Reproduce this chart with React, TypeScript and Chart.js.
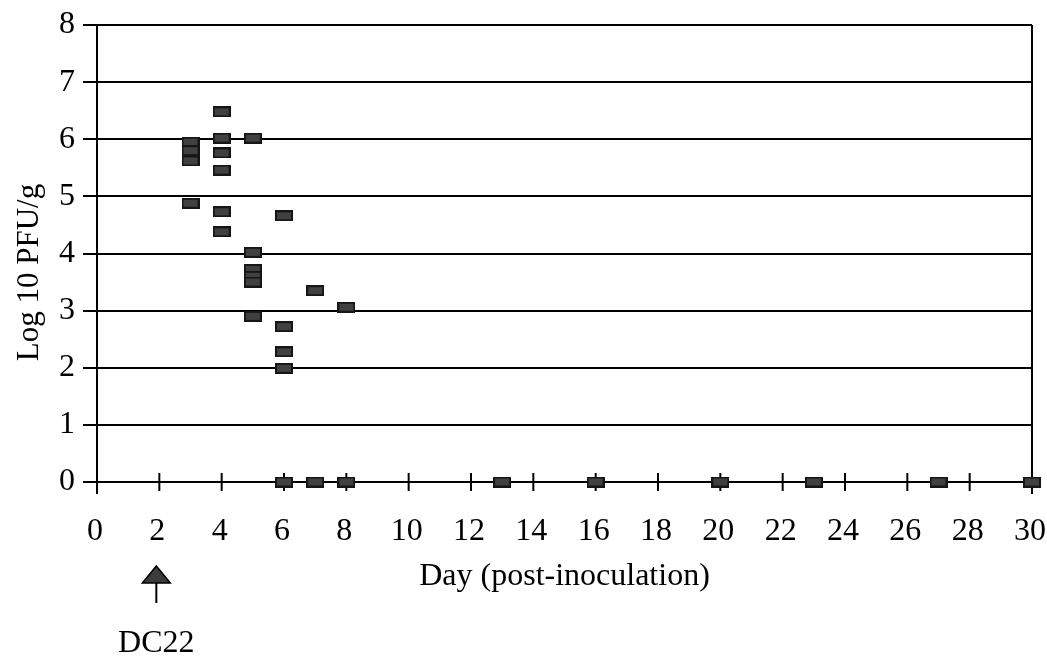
import React, { useEffect, useRef } from "react";
import { Chart, registerables } from "chart.js";

Chart.register(...registerables);

// Samples with detectable virus: day and log10 PFU/g
const positiveDays = [3, 3, 3, 3, 4, 4, 4, 4, 4, 4, 5, 5, 5, 5, 5, 5, 6, 6, 6, 6, 7, 8];
const positiveTiters = [
  5.95, 5.8, 5.62, 4.88,
  6.48, 6.02, 5.76, 5.46, 4.73, 4.38,
  6.02, 4.02, 3.72, 3.6, 3.5, 2.9,
  4.66, 2.72, 2.28, 1.99,
  3.35,
  3.06,
];
// Samples below detection
const negativeDays = [6, 7, 8, 13, 16, 20, 23, 27, 30];
const negativeTiters = [0, 0, 0, 0, 0, 0, 0, 0, 0];

const xTickValues = [0, 2, 4, 6, 8, 10, 12, 14, 16, 18, 20, 22, 24, 26, 28, 30];
const yTickValues = [0, 1, 2, 3, 4, 5, 6, 7, 8];

const doseDay = 2;
const doseLabel = "DC22";
const xTitle = "Day (post-inoculation)";
const yTitle = "Log 10 PFU/g";

const SERIF = "'Liberation Serif', 'Times New Roman', Times, serif";

function makeMarker(): HTMLCanvasElement {
  const c = document.createElement("canvas");
  c.width = 18;
  c.height = 11;
  const g = c.getContext("2d")!;
  g.fillStyle = "#161616";
  g.fillRect(0, 0, 18, 11);
  g.fillStyle = "#404040";
  g.fillRect(2, 2, 14, 7);
  return c;
}

const framePlugin = {
  id: "frameAndMarks",
  beforeDatasetsDraw(chart: any) {
    const { ctx, chartArea, scales } = chart;
    const xs = scales.x;
    const ys = scales.y;
    const y0 = ys.getPixelForValue(0);
    ctx.save();
    ctx.strokeStyle = "#000";
    ctx.lineWidth = 2;
    // cross ticks on the zero line
    xTickValues.forEach((v) => {
      const px = xs.getPixelForValue(v);
      ctx.beginPath();
      ctx.moveTo(px, y0 - 9);
      ctx.lineTo(px, y0 + 9);
      ctx.stroke();
    });
    // right frame and axis extensions below zero
    ctx.beginPath();
    ctx.moveTo(chartArea.right, chartArea.top);
    ctx.lineTo(chartArea.right, chartArea.bottom + 12);
    ctx.moveTo(chartArea.left, chartArea.bottom);
    ctx.lineTo(chartArea.left, chartArea.bottom + 12);
    ctx.stroke();
    ctx.restore();
  },
  afterDraw(chart: any) {
    const { ctx, chartArea, scales } = chart;
    const cx = scales.x.getPixelForValue(doseDay) - 3;
    ctx.save();
    // y-axis title
    ctx.fillStyle = "#000";
    ctx.font = `31px ${SERIF}`;
    ctx.textAlign = "center";
    ctx.textBaseline = "middle";
    ctx.translate(30, (chartArea.top + chartArea.bottom) / 2 + 19);
    ctx.rotate(-Math.PI / 2);
    ctx.fillText(yTitle, 0, 0);
    ctx.restore();

    ctx.save();
    // dosing arrow
    ctx.fillStyle = "#3c3c3c";
    ctx.strokeStyle = "#000";
    ctx.lineWidth = 1.5;
    ctx.beginPath();
    ctx.moveTo(cx, 566);
    ctx.lineTo(cx + 14, 583);
    ctx.lineTo(cx - 14, 583);
    ctx.closePath();
    ctx.fill();
    ctx.stroke();
    ctx.lineWidth = 2;
    ctx.beginPath();
    ctx.moveTo(cx, 583);
    ctx.lineTo(cx, 603);
    ctx.stroke();
    ctx.fillStyle = "#000";
    ctx.font = `32px ${SERIF}`;
    ctx.textAlign = "center";
    ctx.textBaseline = "alphabetic";
    ctx.fillText(doseLabel, cx, 652);
    ctx.restore();
  },
};

export default function App() {
  const ref = useRef<HTMLCanvasElement>(null);

  useEffect(() => {
    const marker = makeMarker();
    const toPts = (xs: number[], ys: number[]) => xs.map((x, i) => ({ x, y: ys[i] }));
    const chart = new Chart(ref.current!, {
      type: "scatter",
      data: {
        datasets: [
          {
            label: "positive",
            data: toPts(positiveDays, positiveTiters),
            pointStyle: marker as any,
            pointRadius: 9,
            clip: false,
          },
          {
            label: "negative",
            data: toPts(negativeDays, negativeTiters),
            pointStyle: marker as any,
            pointRadius: 9,
            clip: false,
          },
        ],
      },
      plugins: [framePlugin],
      options: {
        animation: false,
        responsive: false,
        devicePixelRatio: 1,
        layout: { padding: { top: 25, right: 15, left: 0, bottom: 0 } },
        plugins: { legend: { display: false }, tooltip: { enabled: false } },
        scales: {
          x: {
            type: "linear",
            min: 0,
            max: 30,
            afterBuildTicks: (s: any) => {
              s.ticks = xTickValues.map((v) => ({ value: v }));
            },
            afterFit: (s: any) => {
              s.height = 180;
              s.paddingLeft = 0;
              s.paddingRight = 0;
            },
            ticks: {
              color: "#000",
              font: { family: SERIF, size: 32 },
              padding: 30,
              labelOffset: -2,
              maxRotation: 0,
              autoSkip: false,
            },
            grid: { display: false, drawTicks: false },
            border: { display: true, color: "#000", width: 2 },
            title: {
              display: true,
              text: xTitle,
              color: "#000",
              font: { family: SERIF, size: 32 },
              padding: { top: 0, bottom: 66 },
            },
          },
          y: {
            type: "linear",
            min: 0,
            max: 8,
            afterBuildTicks: (s: any) => {
              s.ticks = yTickValues.map((v) => ({ value: v }));
            },
            afterFit: (s: any) => {
              s.width = 97;
              s.paddingTop = 0;
              s.paddingBottom = 0;
            },
            ticks: {
              color: "#000",
              font: { family: SERIF, size: 32 },
              padding: 8,
            },
            grid: { color: "#000", lineWidth: 2, tickLength: 14 },
            border: { display: true, color: "#000", width: 2 },
          },
        },
      },
    });
    return () => chart.destroy();
  }, []);

  return (
    <div style={{ position: "fixed", left: 0, top: 0, width: 1047, height: 662, background: "#fff" }}>
      <canvas ref={ref} width={1047} height={662} style={{ display: "block" }} />
    </div>
  );
}
